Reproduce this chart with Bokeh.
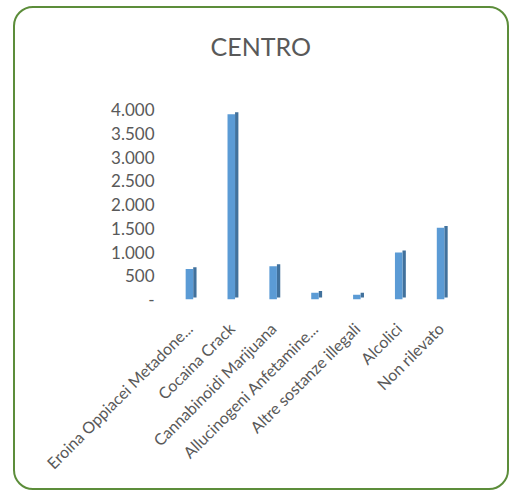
import math
from bokeh.plotting import figure
from bokeh.models import FactorRange, Range1d, FixedTicker, Title
from bokeh.transform import dodge
from bokeh.embed import file_html
from bokeh.resources import INLINE

title_text = "CENTRO"
categories = ["Eroina Oppiacei Metadone...", "Cocaina Crack", "Cannabinoidi Marijuana",
              "Allucinogeni Anfetamine...", "Altre sostanze illegali", "Alcolici", "Non rilevato"]
values = [640, 3900, 700, 140, 100, 990, 1510]
tick_values = [0, 500, 1000, 1500, 2000, 2500, 3000, 3500, 4000]
tick_labels = ["-", "500", "1.000", "1.500", "2.000", "2.500", "3.000", "3.500", "4.000"]

FONT = "Lato"
GREY = "#595959"
DEPTH = 40  # apparent 3D depth of bars (style)

p = figure(x_range=FactorRange(*categories), y_range=Range1d(0, 4000), title=None,
           width=492, height=480, output_backend="svg", toolbar_location=None,
           min_border_left=153, min_border_right=50, min_border_top=101, min_border_bottom=193)
p.margin = (6, 0, 0, 13)
p.styles = {"border": "2px solid #5C8D3A", "border-radius": "20px", "box-sizing": "content-box"}
p.border_fill_alpha = 0
p.outline_line_color = None
p.xgrid.visible = False
p.ygrid.visible = False

# blank spacer (closest to the frame), then the chart title above it
p.add_layout(Title(text=" ", text_font_size="10px", standoff=34), "above")
p.add_layout(Title(text=title_text, align="left", vertical_align="top", offset=42, standoff=0,
                   text_font=FONT, text_font_size="25px", text_font_style="normal",
                   text_color=GREY), "above")

side_top = [v + DEPTH for v in values]
p.vbar(x=dodge("cat", 0.13, range=p.x_range), top="side_top", bottom=DEPTH, width=0.08,
       source=dict(cat=categories, side_top=side_top), fill_color="#41719C", line_color=None)
p.vbar(x="cat", top="val", bottom=0, width=0.18,
       source=dict(cat=categories, val=values), fill_color="#5B9BD5", line_color=None)

ya = p.yaxis[0]
ya.ticker = FixedTicker(ticks=tick_values)
ya.major_label_overrides = {t: l for t, l in zip(tick_values, tick_labels)}
ya.axis_line_color = None
ya.major_tick_line_color = None
ya.minor_tick_line_color = None
ya.major_label_standoff = 8
ya.major_label_text_font = FONT
ya.major_label_text_font_size = "17px"
ya.major_label_text_color = GREY

xa = p.xaxis[0]
xa.axis_line_color = None
xa.major_tick_line_color = None
xa.minor_tick_line_color = None
xa.major_label_orientation = math.pi / 4
xa.major_label_standoff = 20
xa.major_label_text_font = FONT
xa.major_label_text_font_size = "16px"
xa.major_label_text_color = GREY

open("out.html", "w").write(file_html(p, INLINE))
